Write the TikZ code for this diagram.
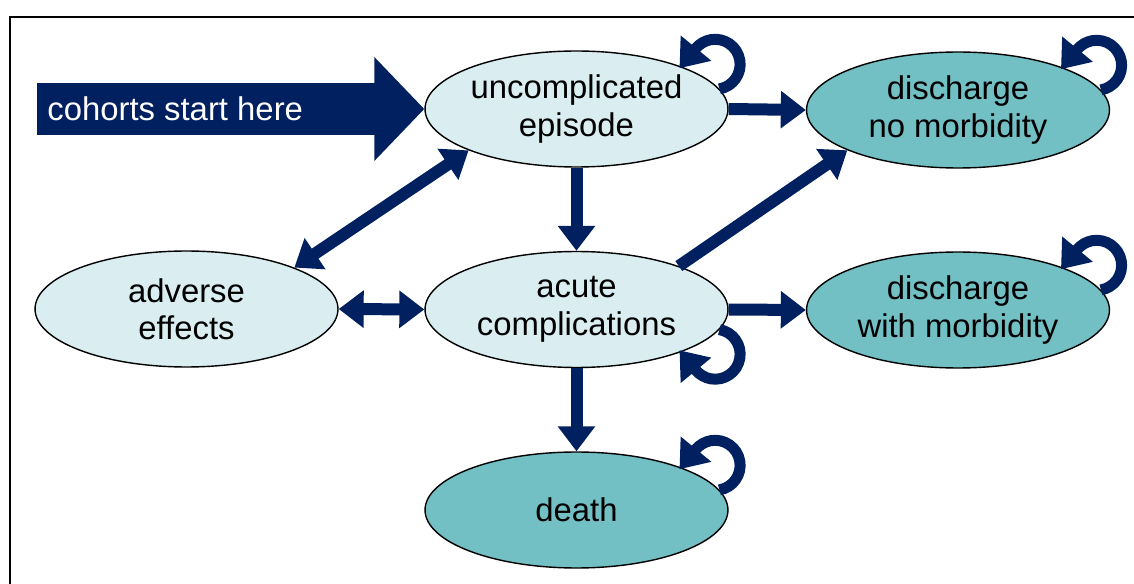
\documentclass[tikz,border=0pt]{standalone}
\usepackage{fontspec}
\setmainfont{Liberation Sans}
\usetikzlibrary{shapes.geometric,arrows.meta,positioning}
\definecolor{navy}{RGB}{0,32,96}
\definecolor{palecyan}{RGB}{218,237,240}
\definecolor{darkcyan}{RGB}{114,191,196}

\begin{document}
\begin{tikzpicture}[x=0.02cm, y=-0.02cm,
  every node/.style={font=\fontsize{18.7}{21.3}\selectfont},
  state/.style={ellipse, draw=black, line width=0.8pt, fill=palecyan, minimum width=6.06cm, minimum height=2.32cm, inner sep=0pt, align=center},
  outcome/.style={state, fill=darkcyan},
  flow/.style={navy, line width=0.24cm, -{Triangle[width=0.72cm,length=0.5cm]}},
  twoway/.style={flow, {Triangle[width=0.72cm,length=0.5cm]}-{Triangle[width=0.72cm,length=0.5cm]}},
  selfloop/.style={navy, line width=0.22cm, -{Triangle[width=0.76cm,length=0.52cm]}}]
\useasboundingbox (0,0) rectangle (1134,584);
\draw[line width=1.5pt] (10,584) -- (10,17) -- (1134,17);

\node[state] (unc) at (576.5,109) {uncomplicated\\episode};
\node[state] (acute) at (576.5,309.5) {acute\\complications};
\node[state] (adverse) at (186.5,309) {adverse\\effects};
\node[outcome] (dno) at (958,110) {discharge\\no morbidity};
\node[outcome] (dwith) at (958,310) {discharge\\with morbidity};
\node[outcome] (death) at (576.5,510) {death};

\coordinate (start) at (37,109);
\draw[navy, line width=1.04cm, -{Triangle[width=2.02cm,length=1cm]}] (start) -- (unc.west);
\node[white, anchor=west, inner sep=0pt, right=0.2cm of start] (cohorts) {cohorts start here};

\draw[flow] (unc.east) -- (dno.west);
\draw[flow] (unc.south) -- (acute.north);
\draw[twoway] (adverse.21) -- (unc.201);
\draw[twoway] (adverse.east) -- (acute.west);
\draw[flow] (acute.23) -- (dno.200);
\draw[flow] (acute.east) -- (dwith.west);
\draw[flow] (acute.south) -- (death.north);

\draw[selfloop] (unc.8) arc[start angle=-80, end angle=140, radius=0.5cm] -- ++(-0.33cm,-0.4cm);
\draw[selfloop] (dno.8) arc[start angle=-80, end angle=140, radius=0.5cm] -- ++(-0.33cm,-0.4cm);
\draw[selfloop] (dwith.8) arc[start angle=-80, end angle=140, radius=0.5cm] -- ++(-0.33cm,-0.4cm);
\draw[selfloop] (death.8) arc[start angle=-80, end angle=140, radius=0.5cm] -- ++(-0.33cm,-0.4cm);
\draw[selfloop] (acute.-8) arc[start angle=80, end angle=-140, radius=0.5cm] -- ++(-0.33cm,0.4cm);
\end{tikzpicture}
\end{document}
